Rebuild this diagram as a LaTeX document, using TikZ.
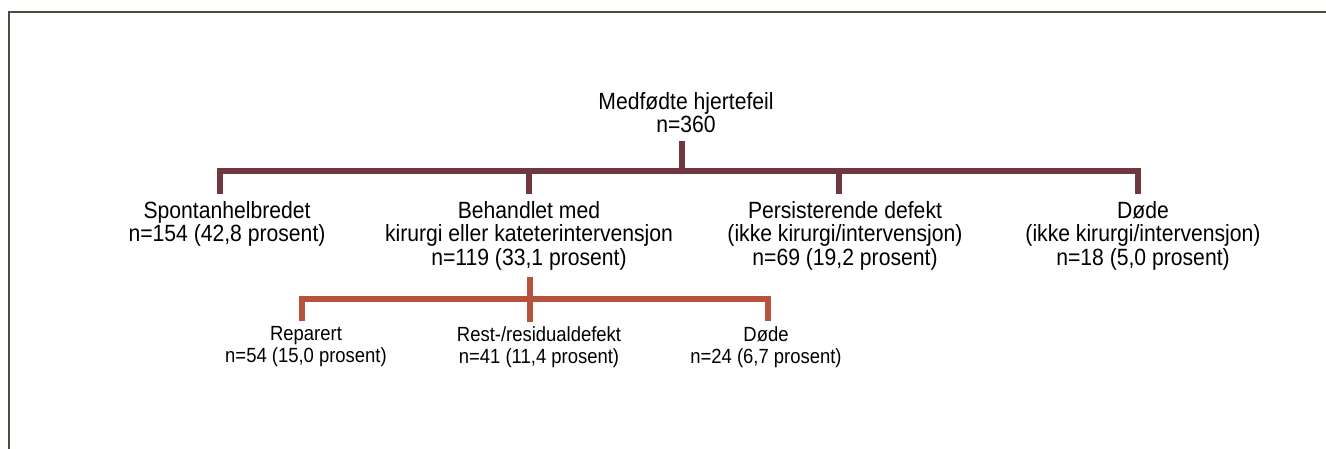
\documentclass[tikz,border=0pt]{standalone}
\usepackage{fontspec}
\setmainfont[FakeStretch=0.9]{Liberation Sans}
\definecolor{treeA}{RGB}{110,56,62}
\definecolor{treeB}{RGB}{183,82,60}
\definecolor{framecol}{RGB}{80,75,62}
\begin{document}
\begin{tikzpicture}[x=1pt,y=-1pt,
  lvl/.style={align=center, inner sep=0pt, anchor=north, font=\fontsize{23.5}{23.5}\selectfont},
  sub/.style={align=center, inner sep=0pt, anchor=north, font=\fontsize{20.5}{22}\selectfont},
  darkline/.style={draw=treeA, line width=5.5pt, line join=miter, line cap=butt},
  orangeline/.style={draw=treeB, line width=5.5pt, line join=miter, line cap=butt}]
\useasboundingbox (0,0) rectangle (1326,448);
\draw[framecol, line width=2pt] (8.5,449) -- (8.5,11.5) -- (1327,11.5);

\node[lvl] (top) at (686,92) {Medfødte hjertefeil\\n=360};
\node[lvl] (a) at (227,201) {Spontanhelbredet\\n=154 (42,8 prosent)};
\node[lvl] (b) at (529,201) {Behandlet med\\kirurgi eller kateterintervensjon\\n=119 (33,1 prosent)};
\node[lvl] (c) at (845,201) {Persisterende defekt\\(ikke kirurgi/intervensjon)\\n=69 (19,2 prosent)};
\node[lvl] (d) at (1143,201) {Døde\\(ikke kirurgi/intervensjon)\\n=18 (5,0 prosent)};

\node[sub] (b1) at (306,326) {Reparert\\n=54 (15,0 prosent)};
\node[sub] (b2) at (539,326) {Rest-/residualdefekt\\n=41 (11,4 prosent)};
\node[sub] (b3) at (766,326) {Døde\\n=24 (6,7 prosent)};

% dark tree
\coordinate (t0) at (682,141);
\coordinate (j0) at (682,171);
\coordinate (ja) at (220,171);
\coordinate (jb) at (529,171);
\coordinate (jc) at (839,171);
\coordinate (jd) at (1138,171);
\coordinate (ea) at (220,194);
\coordinate (eb) at (529,194);
\coordinate (ec) at (839,194);
\coordinate (ed) at (1138,194);
\draw[darkline] (t0) -- (j0);
\draw[darkline] (ea) -- (ja) -- (jd) -- (ed);
\draw[darkline] (jb) -- (eb);
\draw[darkline] (jc) -- (ec);

% orange tree
\coordinate (u0) at (530,277);
\coordinate (k0) at (530,299);
\coordinate (k1) at (302,299);
\coordinate (k3) at (768,299);
\coordinate (f1) at (302,321);
\coordinate (f2) at (530,322);
\coordinate (f3) at (768,321);
\draw[orangeline] (u0) -- (f2);
\draw[orangeline] (f1) -- (k1) -- (k3) -- (f3);
\end{tikzpicture}
\end{document}
